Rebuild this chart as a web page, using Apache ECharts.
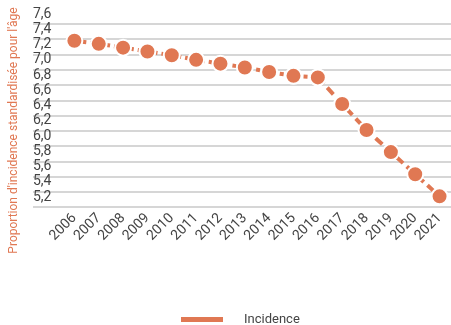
<!DOCTYPE html>
<html>
<head>
<meta charset="utf-8">
<script src="https://cdn.jsdelivr.net/npm/echarts@6/dist/echarts.min.js"></script>
<style>
html,body{margin:0;padding:0;background:#fff;}
#chart{width:451px;height:325px;}
</style>
</head>
<body>
<div id="chart"></div>
<script>
const years = [2006,2007,2008,2009,2010,2011,2012,2013,2014,2015,2016,2017,2018,2019,2020,2021];
const incidence = [7.38,7.34,7.29,7.24,7.19,7.13,7.08,7.03,6.97,6.92,6.90,6.55,6.21,5.92,5.63,5.34];
const yTicks = [5.2,5.4,5.6,5.8,6.0,6.2,6.4,6.6,6.8,7.0,7.2,7.4,7.6];
const seriesName = 'Incidence';
const axisTitle = "Proportion d'incidence standardisée pour l'âge";
const splitYear = 2016;

const color = '#e07853';
const dotted = years.map((y, i) => [y, y <= splitYear ? incidence[i] : null]);
const dashed = years.map((y, i) => [y, y >= splitYear ? incidence[i] : null]);

const chart = echarts.init(document.getElementById('chart'));
chart.setOption({
  animation: false,
  textStyle: { fontFamily: 'Roboto' },
  grid: { left: 33, right: 0, top: 24, bottom: 118, containLabel: false },
  legend: {
    top: 308,
    left: 174,
    icon: 'rect',
    itemWidth: 44,
    itemHeight: 7,
    textStyle: { color: '#444', fontSize: 13, padding: [0, 0, 0, 15] },
    data: [seriesName]
  },
  xAxis: {
    type: 'value',
    min: 2004.3,
    max: 2021.47,
    splitLine: { show: false },
    axisLine: { show: false },
    axisTick: { show: false },
    axisLabel: {
      customValues: years,
      rotate: 45,
      margin: 9,
      color: '#444',
      fontSize: 14,
      formatter: v => String(v)
    }
  },
  yAxis: {
    type: 'value',
    min: 5.2,
    max: 7.6,
    interval: 0.2,
    name: axisTitle,
    nameLocation: 'middle',
    nameGap: 13,
    nameTextStyle: { color: color, fontSize: 12, padding: [0, 30, 0, 0] },
    axisLine: { show: false },
    axisTick: { show: false },
    splitLine: { lineStyle: { color: '#c8c8c8', width: 1.5 } },
    axisLabel: {
      inside: true,
      margin: 0,
      align: 'left',
      verticalAlign: 'bottom',
      padding: [0, 0, 3, 0],
      color: '#444',
      fontSize: 14,
      customValues: yTicks,
      formatter: v => v.toFixed(1).replace('.', ',')
    }
  },
  series: [
    {
      name: seriesName,
      type: 'line',
      data: dotted,
      color: color,
      symbol: 'circle',
      symbolSize: 16,
      itemStyle: { color: color, borderColor: '#fff', borderWidth: 2 },
      lineStyle: { color: color, width: 4, type: [4, 4] },
      connectNulls: false,
      z: 3
    },
    {
      name: seriesName,
      type: 'line',
      data: dashed,
      color: color,
      symbol: 'circle',
      symbolSize: 16,
      itemStyle: { color: color, borderColor: '#fff', borderWidth: 2 },
      lineStyle: { color: color, width: 4, type: [9, 5] },
      connectNulls: false,
      z: 3
    }
  ]
});
</script>
</body>
</html>
